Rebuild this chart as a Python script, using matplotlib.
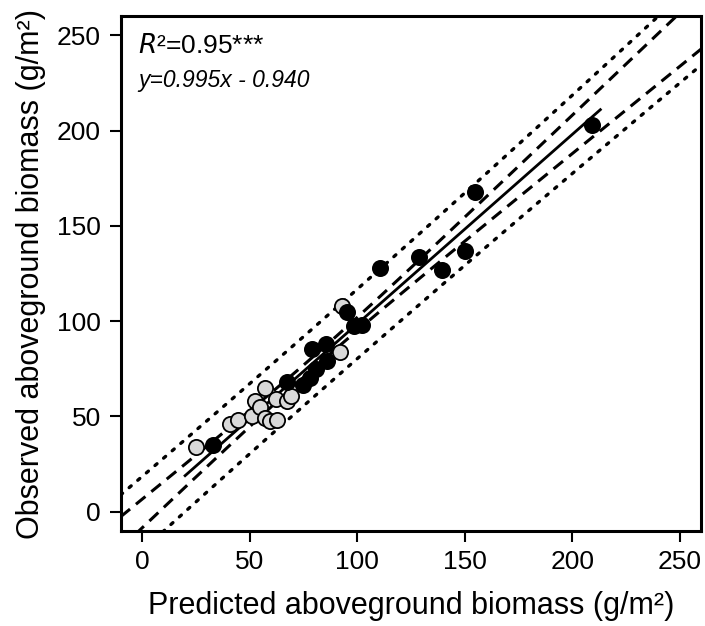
import numpy as np
import matplotlib
matplotlib.use('Agg')
import matplotlib.pyplot as plt

plt.rcParams['font.family'] = ['Liberation Sans', 'DejaVu Sans']

# gray (open) points: predicted, observed
gray_x = [25, 41, 44.5, 51, 52.7, 54.6, 57.3, 57.3, 59.6, 62.5, 62.4, 67.4, 69.2, 92, 93]
gray_y = [34, 46, 48, 50.5, 58, 55, 65, 49, 47.5, 48.3, 59, 58, 61, 84, 108]
# black (filled) points
black_x = [33, 67.4, 75, 78, 81, 79, 85.6, 86, 95.3, 98.5, 102, 110.7, 128.5, 139.4, 150, 154.6, 209]
black_y = [35, 68, 66.5, 70, 75, 85.5, 88, 79, 105, 97.5, 98, 128, 133.7, 127, 137, 168, 203]

slope = 0.995
intercept = -0.940
fit_range = [20, 213]
t_crit = 2.04

x_all = np.array(gray_x + black_x)
y_all = np.array(gray_y + black_y)
n = len(x_all)
resid = y_all - (slope * x_all + intercept)
s = np.sqrt(np.sum(resid ** 2) / (n - 2))
xbar = x_all.mean()
sxx = np.sum((x_all - xbar) ** 2)

# confidence (dashed) and prediction (dotted) bands
xs = np.linspace(-10, 260, 200)
yhat = slope * xs + intercept
ci = t_crit * s * np.sqrt(1 / n + (xs - xbar) ** 2 / sxx)
pi = t_crit * s * np.sqrt(1 + 1 / n + (xs - xbar) ** 2 / sxx)

fig = plt.figure(figsize=(7.05, 6.26), dpi=100)
ax = fig.add_axes([0.171, 0.152, 0.824, 0.822])

ax.plot(xs, yhat + ci, color='black', linestyle=(0, (4, 2.5)), linewidth=2.2)
ax.plot(xs, yhat - ci, color='black', linestyle=(0, (4, 2.5)), linewidth=2.2)
ax.plot(xs, yhat + pi, color='black', linestyle=(0, (0.8, 2.6)), linewidth=2.4, dash_capstyle='round')
ax.plot(xs, yhat - pi, color='black', linestyle=(0, (0.8, 2.6)), linewidth=2.4, dash_capstyle='round')
fx = np.array(fit_range)
ax.plot(fx, slope * fx + intercept, color='black', linewidth=2)

ax.scatter(gray_x, gray_y, s=120, facecolor='#d9d9d9', edgecolor='black', linewidth=1.3, zorder=3)
ax.scatter(black_x, black_y, s=120, facecolor='black', edgecolor='black', linewidth=1.3, zorder=4)

ax.set_xlim(-10, 260)
ax.set_ylim(-10, 260)
ax.set_xticks([0, 50, 100, 150, 200, 250])
ax.set_yticks([0, 50, 100, 150, 200, 250])
ax.tick_params(labelsize=19, length=8, width=1.5, direction='out', pad=6)
for sp in ax.spines.values():
    sp.set_linewidth(2.2)

ax.set_xlabel('Predicted aboveground biomass (g/m²)', fontsize=22, labelpad=12)
ax.set_ylabel('Observed aboveground biomass (g/m²)', fontsize=22, labelpad=8)

ax.text(0.03, 0.965, r'$\it{R}$²=0.95***', transform=ax.transAxes, fontsize=19, va='top', ha='left')
ax.text(0.03, 0.898, 'y=0.995x - 0.940', transform=ax.transAxes, fontsize=16.5, va='top', ha='left', style='italic')

fig.savefig('out.png', dpi=100)
